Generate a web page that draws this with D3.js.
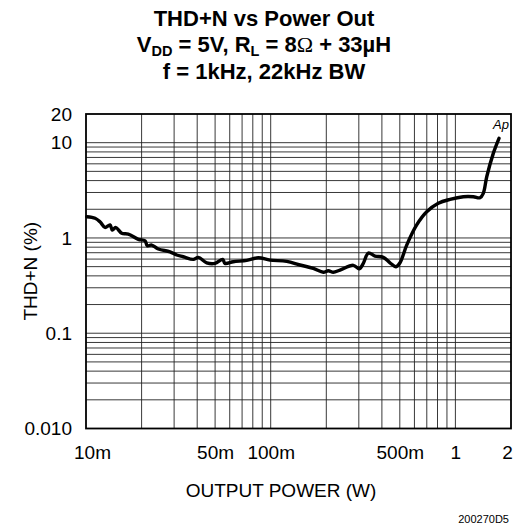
<!DOCTYPE html>
<html>
<head>
<meta charset="utf-8">
<script src="https://cdn.jsdelivr.net/npm/d3@7"></script>
<style>
  html, body { margin: 0; padding: 0; background: #fff; }
  svg { display: block; font-family: "Liberation Sans", Arial, Helvetica, sans-serif; }
</style>
</head>
<body>
<svg id="chart" width="527" height="529"></svg>
<script>
// ---- data ----
const power = [0.0101, 0.0112, 0.0119, 0.01267, 0.01349, 0.01388, 0.01448, 0.01561, 0.01694, 0.0192,
  0.02086, 0.02147, 0.02268, 0.02463, 0.0285, 0.03098, 0.03364, 0.0381, 0.04055, 0.04503,
  0.04994, 0.05496, 0.05656, 0.06274, 0.07415, 0.08568, 0.09913, 0.1221, 0.1441, 0.1701,
  0.1927, 0.2051, 0.2183, 0.2373, 0.2801, 0.3018, 0.3172, 0.3377, 0.367, 0.407,
  0.4425, 0.4769, 0.5013, 0.545, 0.6173, 0.6993, 0.8079, 0.935, 1.104, 1.25,
  1.359, 1.416, 1.478, 1.604, 1.722];
const thdn = [1.67, 1.61, 1.48, 1.29, 1.37, 1.21, 1.29, 1.12, 1.10, 0.967,
  0.935, 0.828, 0.842, 0.765, 0.716, 0.662, 0.635, 0.596, 0.626, 0.549,
  0.541, 0.596, 0.541, 0.563, 0.582, 0.620, 0.586, 0.568, 0.520, 0.480,
  0.436, 0.453, 0.436, 0.460, 0.516, 0.475, 0.541, 0.694, 0.646, 0.626,
  0.549, 0.499, 0.549, 0.842, 1.37, 1.88, 2.31, 2.54, 2.71, 2.71,
  2.64, 2.94, 4.39, 7.72, 11.1];

const xTickValues = [0.01, 0.05, 0.1, 0.5, 1, 2];
const xTickLabels = ["10m", "50m", "100m", "500m", "1", "2"];
const yTickValues = [0.01, 0.1, 1, 10, 20];
const yTickLabels = ["0.010", "0.1", "1", "10", "20"];
const xGridValues = [0.02, 0.03, 0.04, 0.05, 0.06, 0.07, 0.08, 0.09, 0.1,
  0.2, 0.3, 0.4, 0.5, 0.6, 0.7, 0.8, 0.9, 1];
const yGridValues = [0.02, 0.03, 0.04, 0.05, 0.06, 0.07, 0.08, 0.09, 0.1,
  0.2, 0.3, 0.4, 0.5, 0.6, 0.7, 0.8, 0.9, 1,
  2, 3, 4, 5, 6, 7, 8, 9, 10];

const titleLine1 = "THD+N vs Power Out";
const titleLine3 = "f = 1kHz, 22kHz BW";
const xAxisTitle = "OUTPUT POWER (W)";
const yAxisTitle = "THD+N (%)";
const curveLabel = "Ap";
const figureId = "200270D5";

// ---- layout ----
const pL = 86, pR = 511, pT = 114, pB = 428.5;
const svg = d3.select("#chart");

const x = d3.scaleLog().domain([0.01, 2]).range([pL, pR]);
const y = d3.scaleLog().domain([0.01, 20]).range([pB, pT]);

// grid
const grid = svg.append("g");
grid.selectAll("line.vx").data(xGridValues).join("line")
  .attr("x1", d => x(d)).attr("x2", d => x(d))
  .attr("y1", pT).attr("y2", pB)
  .attr("stroke", "#222").attr("stroke-width", 0.9);
grid.selectAll("line.hy").data(yGridValues).join("line")
  .attr("x1", pL).attr("x2", pR)
  .attr("y1", d => y(d)).attr("y2", d => y(d))
  .attr("stroke", "#222").attr("stroke-width", 0.9);

// frame
svg.append("rect")
  .attr("x", pL).attr("y", pT)
  .attr("width", pR - pL).attr("height", pB - pT)
  .attr("fill", "none").attr("stroke", "#000").attr("stroke-width", 1.8);

// axes
const xShift = [6, 0, 0, 0, 0, -4];
const xAxis = d3.axisBottom(x).tickValues(xTickValues)
  .tickFormat((d, i) => xTickLabels[i]).tickSize(0).tickPadding(17);
const gx = svg.append("g").attr("transform", `translate(0,${pB})`).call(xAxis);
gx.select(".domain").remove();
gx.selectAll("text").attr("font-size", 19).attr("fill", "#000")
  .attr("font-family", "Liberation Sans, Arial, sans-serif")
  .attr("dx", (d, i) => xShift[i]);

const yAxis = d3.axisLeft(y).tickValues(yTickValues)
  .tickFormat((d, i) => yTickLabels[i]).tickSize(0).tickPadding(14);
const gy = svg.append("g").attr("transform", `translate(${pL},0)`).call(yAxis);
gy.select(".domain").remove();
gy.selectAll("text").attr("font-size", 19).attr("fill", "#000")
  .attr("font-family", "Liberation Sans, Arial, sans-serif");

// curve
const line = d3.line().x((d, i) => x(power[i])).y((d, i) => y(thdn[i]))
  .curve(d3.curveCatmullRom.alpha(0.5));
svg.append("path").datum(thdn).attr("d", line)
  .attr("fill", "none").attr("stroke", "#000").attr("stroke-width", 3.4)
  .attr("stroke-linejoin", "round").attr("stroke-linecap", "round");

// curve label
svg.append("text").attr("x", x(1.6)).attr("y", y(14))
  .attr("font-size", 13).attr("font-style", "italic").text(curveLabel);

// titles
const t = svg.append("g").attr("text-anchor", "middle").attr("font-weight", "bold")
  .attr("font-size", 22).attr("fill", "#000");
t.append("text").attr("x", 264).attr("y", 26).text(titleLine1);
const t2 = t.append("text").attr("x", 264).attr("y", 52);
t2.append("tspan").text("V");
t2.append("tspan").attr("font-size", 14.5).attr("dy", 4).text("DD");
t2.append("tspan").attr("dy", -4).text(" = 5V, R");
t2.append("tspan").attr("font-size", 14.5).attr("dy", 4).text("L");
t2.append("tspan").attr("dy", -4).text(" = 8");
t2.append("tspan").attr("font-weight", "normal").attr("font-family", "Liberation Serif, serif").text("\u03A9");
t2.append("tspan").text(" + 33\u00B5H");
t.append("text").attr("x", 264).attr("y", 79).text(titleLine3);

// axis titles
svg.append("text").attr("x", 281).attr("y", 497)
  .attr("text-anchor", "middle").attr("font-size", 19).text(xAxisTitle);
svg.append("text").attr("transform", `translate(37,${(pT + pB) / 2}) rotate(-90)`)
  .attr("text-anchor", "middle").attr("font-size", 19).text(yAxisTitle);

svg.append("text").attr("x", 509).attr("y", 523)
  .attr("text-anchor", "end").attr("font-size", 11).text(figureId);
</script>
</body>
</html>
